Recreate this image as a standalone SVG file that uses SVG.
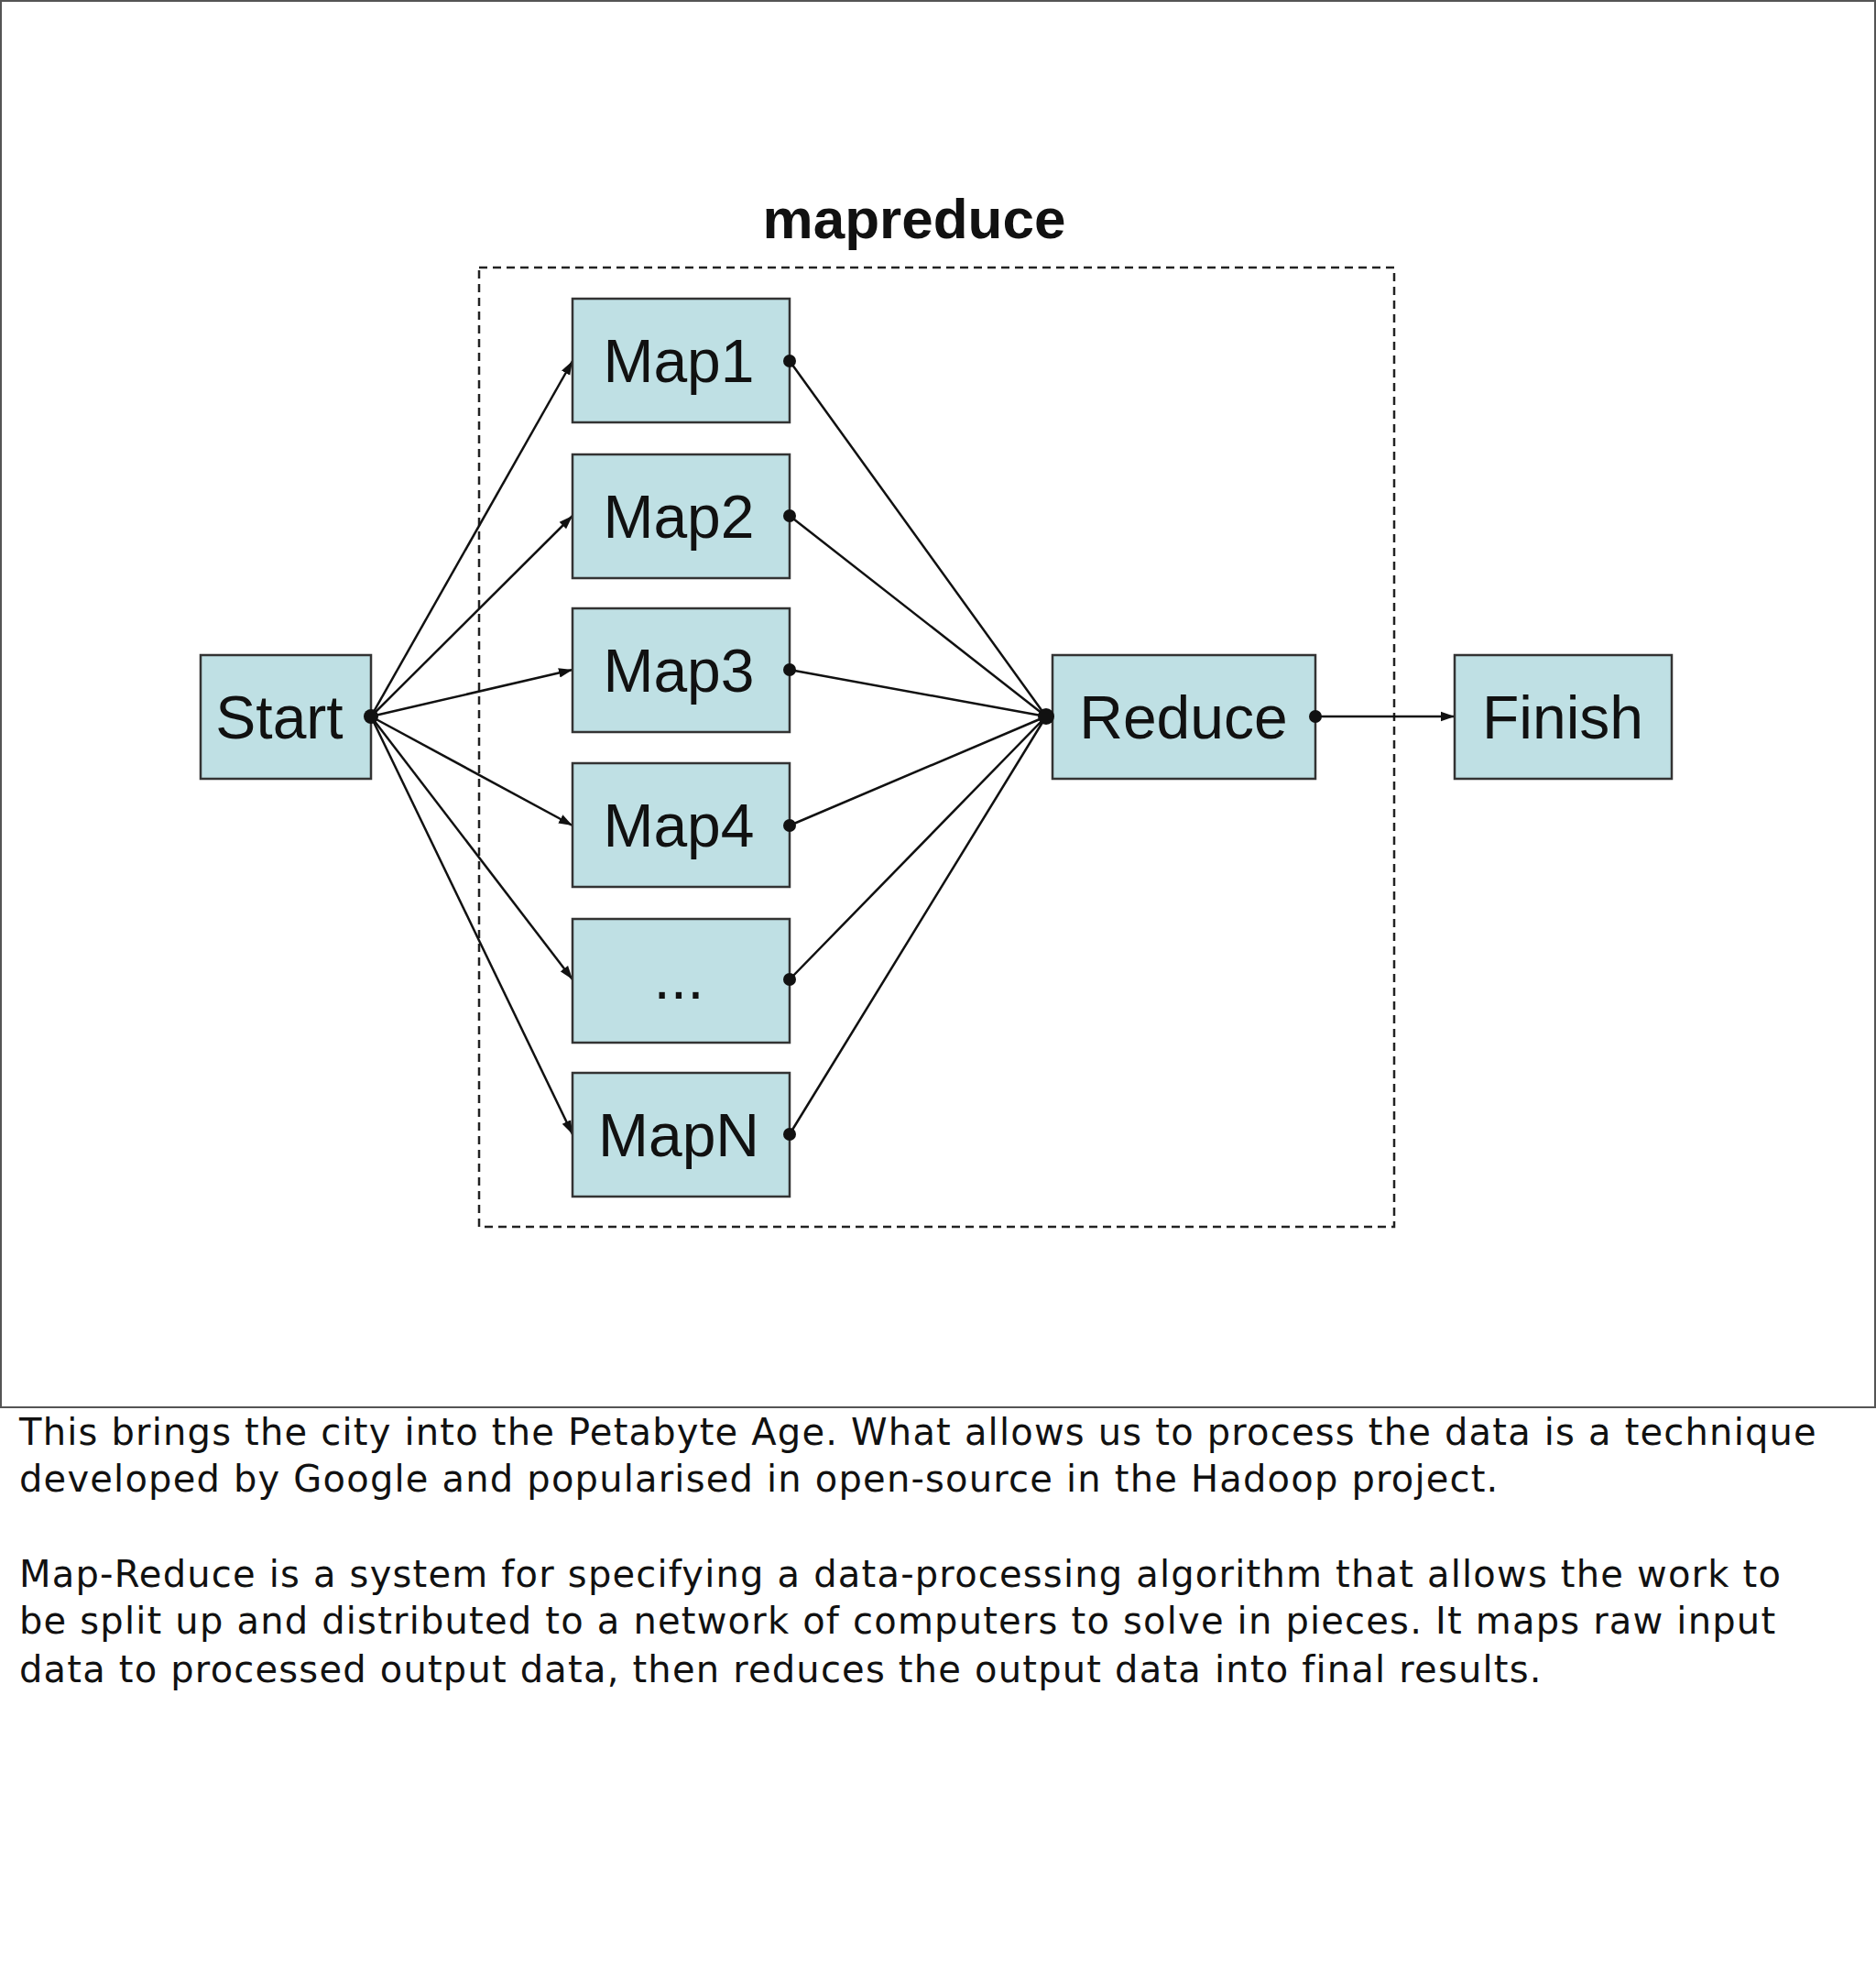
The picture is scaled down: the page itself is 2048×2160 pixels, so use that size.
<svg xmlns="http://www.w3.org/2000/svg" width="2048" height="2160" viewBox="0 0 2048 2160">
<style>
.box{fill:#bfe0e4;stroke:#333;stroke-width:2.5}
.lbl{font-family:"Liberation Sans",Arial,sans-serif;font-size:66px;fill:#111;text-anchor:middle}
.ln{stroke:#111;stroke-width:2.5;fill:none}
.body{font-family:"DejaVu Sans",sans-serif;font-size:40px;letter-spacing:1.2px;fill:#111}
</style>
<defs><marker id="ah" viewBox="0 0 10 10" refX="10" refY="5" markerWidth="15" markerHeight="15" markerUnits="userSpaceOnUse" orient="auto"><path d="M0,1.5 L10,5 L0,8.5 z" fill="#111"/></marker></defs>
<rect width="2048" height="2160" fill="#fff"/>
<rect x="1" y="1" width="2046" height="1535" fill="none" stroke="#555" stroke-width="2"/>
<text x="998" y="260" class="lbl" style="font-weight:bold;font-size:62px">mapreduce</text>
<rect x="523" y="292" width="999" height="1047" fill="none" stroke="#222" stroke-width="2.5" stroke-dasharray="9,6"/>
<g id="connectors">
<path class="ln" marker-end="url(#ah)" d="M405,782 L625,394"/>
<path class="ln" marker-end="url(#ah)" d="M405,782 L625,563"/>
<path class="ln" marker-end="url(#ah)" d="M405,782 L625,731"/>
<path class="ln" marker-end="url(#ah)" d="M405,782 L625,901"/>
<path class="ln" marker-end="url(#ah)" d="M405,782 L625,1069"/>
<path class="ln" marker-end="url(#ah)" d="M405,782 L625,1238"/>
<path class="ln" d="M862,394 L1142,782 M862,563 L1142,782 M862,731 L1142,782 M862,901 L1142,782 M862,1069 L1142,782 M862,1238 L1142,782"/>
<path class="ln" marker-end="url(#ah)" d="M1436,782 L1588,782"/>
</g>
<g id="start"><rect class="box" x="219" y="715" width="186" height="135"/><text class="lbl" x="305" y="806">Start</text></g>
<g id="map1"><rect class="box" x="625" y="326" width="237" height="135"/><text class="lbl" x="741" y="417">Map1</text></g>
<g id="map2"><rect class="box" x="625" y="496" width="237" height="135"/><text class="lbl" x="741" y="587">Map2</text></g>
<g id="map3"><rect class="box" x="625" y="664" width="237" height="135"/><text class="lbl" x="741" y="755">Map3</text></g>
<g id="map4"><rect class="box" x="625" y="833" width="237" height="135"/><text class="lbl" x="741" y="924">Map4</text></g>
<g id="mapdots"><rect class="box" x="625" y="1003" width="237" height="135"/><text class="lbl" x="741" y="1090">...</text></g>
<g id="mapN"><rect class="box" x="625" y="1171" width="237" height="135"/><text class="lbl" x="741" y="1262">MapN</text></g>
<g id="reduce"><rect class="box" x="1149" y="715" width="287" height="135"/><text class="lbl" x="1292" y="806">Reduce</text></g>
<g id="finish"><rect class="box" x="1588" y="715" width="237" height="135"/><text class="lbl" x="1706" y="806">Finish</text></g>
<g id="dots" fill="#111">
<circle cx="405" cy="782" r="8"/><circle cx="862" cy="394" r="7"/><circle cx="862" cy="563" r="7"/><circle cx="862" cy="731" r="7"/><circle cx="862" cy="901" r="7"/><circle cx="862" cy="1069" r="7"/><circle cx="862" cy="1238" r="7"/><circle cx="1142" cy="782" r="9"/><circle cx="1436" cy="782" r="7"/>
</g>
<g class="body">
<text x="21" y="1577">This brings the city into the Petabyte Age. What allows us to process the data is a technique</text>
<text x="21" y="1628">developed by Google and popularised in open-source in the Hadoop project.</text>
<text x="21" y="1732">Map-Reduce is a system for specifying a data-processing algorithm that allows the work to</text>
<text x="21" y="1783">be split up and distributed to a network of computers to solve in pieces. It maps raw input</text>
<text x="21" y="1836">data to processed output data, then reduces the output data into final results.</text>
</g>
</svg>
